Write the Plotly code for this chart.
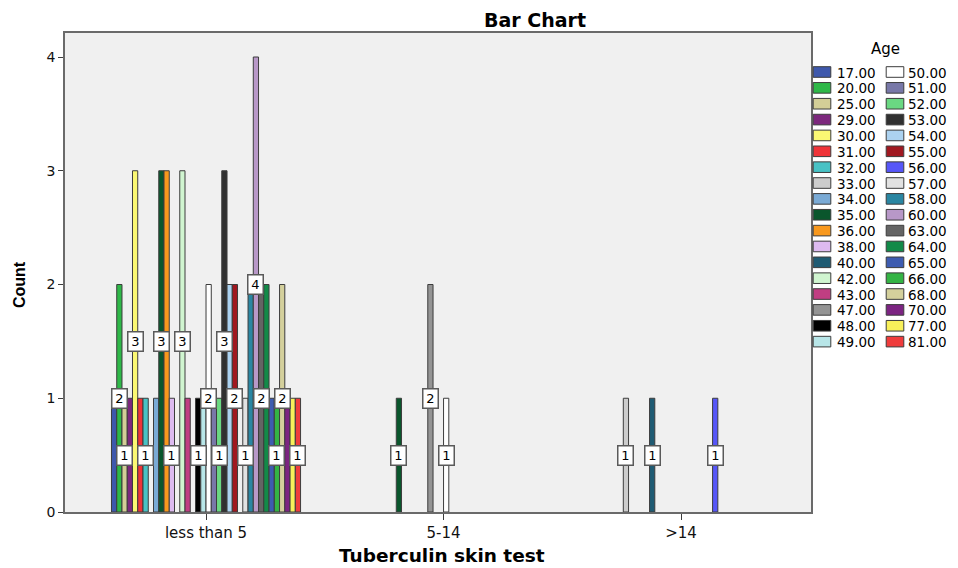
import plotly.graph_objects as go

# ---------------- data ----------------
categories = ["less than 5", "5-14", ">14"]
ages = ["17.00", "20.00", "25.00", "29.00", "30.00", "31.00", "32.00", "33.00", "34.00",
        "35.00", "36.00", "38.00", "40.00", "42.00", "43.00", "47.00", "48.00", "49.00",
        "50.00", "51.00", "52.00", "53.00", "54.00", "55.00", "56.00", "57.00", "58.00",
        "60.00", "63.00", "64.00", "65.00", "66.00", "68.00", "70.00", "77.00", "81.00"]
counts_less_than_5 = [1, 2, 1, 1, 3, 1, 1, 0, 1, 3, 3, 1, 0, 3, 1, 0, 1, 1,
                      2, 1, 1, 3, 2, 2, 0, 1, 2, 4, 2, 2, 1, 1, 2, 1, 1, 1]
counts_5_14 = [0, 0, 0, 0, 0, 0, 0, 0, 0, 1, 0, 0, 0, 0, 0, 2, 0, 0,
               1, 0, 0, 0, 0, 0, 0, 0, 0, 0, 0, 0, 0, 0, 0, 0, 0, 0]
counts_over_14 = [0, 0, 0, 0, 0, 0, 0, 1, 0, 0, 0, 0, 1, 0, 0, 0, 0, 0,
                  0, 0, 0, 0, 0, 0, 1, 0, 0, 0, 0, 0, 0, 0, 0, 0, 0, 0]
colors = ["#3e58ac", "#2eb848", "#d3ce97", "#7c287d", "#fbf873", "#ef3338", "#48c2c5",
          "#cccccc", "#7aaad5", "#0a562c", "#f8981d", "#ddbaf0", "#1f5b73", "#d0f5d0",
          "#c03e82", "#949494", "#000000", "#b8e6e8", "#ffffff", "#7878a8", "#6ad882",
          "#303030", "#acd2f0", "#a01820", "#5656f8", "#e2e2e2", "#2a86a2", "#b898c8",
          "#646464", "#128a48", "#3e5cb0", "#34b444", "#d4d09c", "#7c2482", "#f8f05a",
          "#f03c3c"]

# ---------------- geometry (page pixels; the page body adds an 8px margin) ----------------
OFF = 8
W, H = 958 - OFF, 568 - OFF
PL, PR, PT, PB = 65, 811, 33, 512
BARGAP = 0.204
FONT = "DejaVu Sans"
EDGE = "#3c3c3c"


def px_x(x):
    return (x - OFF) / W


def px_y(y):
    return 1 - (y - OFF) / H


groups = [counts_less_than_5, counts_5_14, counts_over_14]
n = len(ages)

fig = go.Figure()
for i, age in enumerate(ages):
    vals = [g[i] for g in groups]
    fig.add_trace(go.Bar(
        x=categories, y=[v if v else None for v in vals], name=age,
        marker=dict(color=colors[i], line=dict(color=EDGE, width=1)),
        showlegend=False, hoverinfo="x+y+name"))

# value labels (hidden when they would collide with a label to their right)
w = (1 - BARGAP) / n
for gi, series in enumerate(groups):
    last_at_level = {}
    for i in reversed(range(n)):
        v = series[i]
        if not v:
            continue
        prev = last_at_level.get(v)
        if prev is not None and prev - i < 4:
            continue
        last_at_level[v] = i
        fig.add_annotation(
            x=gi - (1 - BARGAP) / 2 + (i + 0.5) * w, y=v / 2, xref="x", yref="y",
            text=str(v), showarrow=False, bgcolor="white", bordercolor="#5a5a5a",
            borderwidth=1.5, borderpad=2, width=10, height=14,
            xanchor="center", yanchor="middle",
            font=dict(family=FONT, size=13, color="black"))

# legend (two columns of 18)
ROW0, ROWH = 72, 15.86
SW_X = [822, 895]
TXT_X = [836, 907]
for k in range(n):
    col, row = k // 18, k % 18
    yc = ROW0 + row * ROWH
    fig.add_shape(type="rect", xref="paper", yref="paper",
                  x0=px_x(SW_X[col] - 8.8), x1=px_x(SW_X[col] + 8.8),
                  y0=px_y(yc + 5.3), y1=px_y(yc - 5.3),
                  fillcolor=colors[k], line=dict(color=EDGE, width=1))
    fig.add_annotation(x=px_x(TXT_X[col]), y=px_y(yc), xref="paper", yref="paper",
                       text=ages[k], showarrow=False, xanchor="left", yanchor="middle",
                       borderpad=0, height=13,
                       font=dict(family=FONT, size=13.5, color="black"))

# titles
fig.add_annotation(x=px_x(535), y=px_y(19.5), xref="paper", yref="paper",
                   text="<b>Bar Chart</b>", showarrow=False, xanchor="center", yanchor="middle",
                   borderpad=0,
                   font=dict(family=FONT, size=19, color="black"))
fig.add_annotation(x=px_x(442), y=px_y(555), xref="paper", yref="paper",
                   text="<b>Tuberculin skin test</b>", showarrow=False,
                   xanchor="center", yanchor="middle", borderpad=0,
                   font=dict(family=FONT, size=18.5, color="black"))
fig.add_annotation(x=px_x(19), y=px_y(285), xref="paper", yref="paper",
                   text="<b>Count</b>", showarrow=False, textangle=-90,
                   xanchor="center", yanchor="middle",
                   font=dict(family="Liberation Sans", size=16, color="black"))
fig.add_annotation(x=px_x(885), y=px_y(49), xref="paper", yref="paper",
                   text="Age", showarrow=False, xanchor="center", yanchor="middle",
                   font=dict(family=FONT, size=15, color="black"))

fig.update_layout(
    width=W, height=H, margin=dict(l=0, r=0, t=0, b=0),
    paper_bgcolor="white", plot_bgcolor="#f0f0f0",
    barmode="group", bargap=BARGAP, bargroupgap=0, showlegend=False,
    xaxis=dict(domain=[px_x(PL), px_x(PR)], range=[-0.5937, 2.547], type="category",
               showline=True, mirror=True, linecolor="#6a6a6a", linewidth=1.5,
               ticks="outside", ticklen=6, tickcolor=EDGE, showgrid=False,
               zeroline=False, automargin=False,
               tickfont=dict(family=FONT, size=15, color="#111111")),
    yaxis=dict(domain=[px_y(PB), px_y(PT)], range=[0, 4.211], tick0=0, dtick=1,
               showline=True, mirror=True, linecolor="#6a6a6a", linewidth=1.5,
               ticks="outside", ticklen=5, tickcolor=EDGE, showgrid=False,
               zeroline=False, automargin=False,
               tickfont=dict(family=FONT, size=14, color="#111111")),
)

fig.write_html("out.html")
